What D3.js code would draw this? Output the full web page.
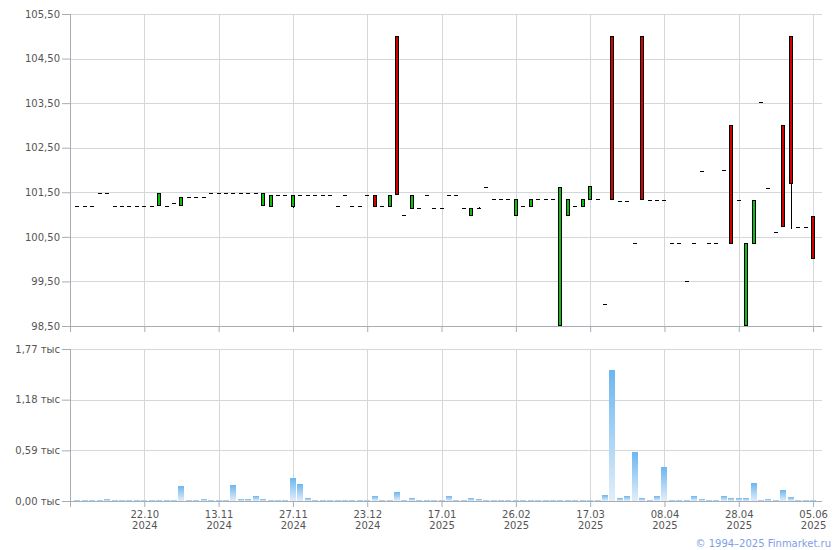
<!DOCTYPE html>
<html>
<head>
<meta charset="utf-8">
<script src="https://cdn.jsdelivr.net/npm/d3@7/dist/d3.min.js"></script>
<style>
  html, body { margin: 0; padding: 0; background: #fff; }
  svg { display: block; font-family: "DejaVu Sans", Verdana, sans-serif; }
</style>
</head>
<body>
<svg id="chart" width="840" height="550"></svg>
<script>
// ---- data (bar index 0..99, daily trading sessions) ----
const open = [
101.2,101.2,101.2,101.48,101.48,101.2,101.2,101.2,101.2,101.2,
101.2,101.2,101.2,101.27,101.2,101.39,101.39,101.39,101.48,101.48,
101.48,101.48,101.48,101.48,101.48,101.2,101.18,101.44,101.44,101.18,
101.44,101.44,101.44,101.44,101.44,101.19,101.45,101.19,101.19,101.44,
101.44,101.19,101.18,105.0,101.0,101.13,101.14,101.45,101.14,101.14,
101.44,101.44,101.14,100.97,101.15,101.61,101.34,101.34,101.34,100.97,
101.19,101.18,101.36,101.34,101.34,98.5,100.97,101.19,101.18,101.33,
101.34,99.0,105.0,101.3,101.3,100.36,105.0,101.32,101.32,101.32,
100.36,100.36,99.5,100.36,101.98,100.36,100.36,102.0,103.0,101.32,
98.5,100.35,103.52,101.59,100.61,103.0,105.0,100.71,100.71,100.97
];
const close = [
101.2,101.2,101.2,101.48,101.48,101.2,101.2,101.2,101.2,101.2,
101.2,101.48,101.2,101.27,101.39,101.39,101.39,101.39,101.48,101.48,
101.48,101.48,101.48,101.48,101.48,101.48,101.43,101.44,101.44,101.43,
101.44,101.44,101.44,101.44,101.44,101.19,101.45,101.19,101.19,101.44,
101.18,101.19,101.44,101.43,101.0,101.44,101.14,101.45,101.14,101.14,
101.44,101.44,101.14,101.14,101.15,101.61,101.34,101.34,101.34,101.34,
101.19,101.34,101.36,101.34,101.34,101.61,101.34,101.19,101.34,101.64,
101.34,99.0,101.32,101.3,101.3,100.36,101.32,101.32,101.32,101.32,
100.36,100.36,99.5,100.36,101.98,100.36,100.36,102.0,100.35,101.32,
100.36,101.32,103.52,101.59,100.61,100.71,101.68,100.71,100.71,100.0
];
const high = [
101.2,101.2,101.2,101.48,101.48,101.2,101.2,101.2,101.2,101.2,
101.2,101.48,101.2,101.27,101.39,101.39,101.39,101.39,101.48,101.48,
101.48,101.48,101.48,101.48,101.48,101.48,101.43,101.44,101.44,101.43,
101.44,101.44,101.44,101.44,101.44,101.19,101.45,101.19,101.19,101.44,
101.44,101.19,101.44,105.0,101.0,101.44,101.14,101.45,101.14,101.14,
101.44,101.44,101.14,101.14,101.17,101.61,101.34,101.34,101.34,101.34,
101.19,101.34,101.36,101.34,101.34,101.61,101.34,101.19,101.34,101.64,
101.34,99.0,105.0,101.3,101.3,100.36,105.0,101.32,101.32,101.32,
100.36,100.36,99.5,100.36,101.98,100.36,100.36,102.0,103.0,101.32,
100.36,101.32,103.52,101.59,100.61,103.0,105.0,100.71,100.71,100.97
];
const low = [
101.2,101.2,101.2,101.48,101.48,101.2,101.2,101.2,101.2,101.2,
101.2,101.2,101.2,101.27,101.2,101.39,101.39,101.39,101.48,101.48,
101.48,101.48,101.48,101.48,101.48,101.2,101.18,101.44,101.44,101.14,
101.44,101.44,101.44,101.44,101.44,101.19,101.45,101.19,101.19,101.44,
101.18,101.19,101.18,101.43,101.0,101.13,101.14,101.45,101.14,101.14,
101.44,101.44,101.14,100.97,101.13,101.61,101.34,101.34,101.34,100.97,
101.19,101.18,101.36,101.34,101.34,98.5,100.97,101.19,101.18,101.33,
101.34,99.0,101.32,101.3,101.3,100.36,101.32,101.32,101.32,101.32,
100.36,100.36,99.5,100.36,101.98,100.36,100.36,102.0,100.35,101.32,
98.5,100.35,103.52,101.59,100.61,100.71,100.68,100.71,100.71,100.0
];
// volume, thousands
const volume = [
0.017,0.017,0.017,0.017,0.027,0.017,0.017,0.017,0.017,0.017,
0.017,0.017,0.017,0.017,0.171,0.017,0.017,0.027,0.017,0.017,
0.017,0.182,0.027,0.027,0.062,0.027,0.017,0.017,0.017,0.272,
0.2,0.037,0.017,0.017,0.017,0.017,0.017,0.017,0.017,0.017,
0.062,0.017,0.017,0.108,0.017,0.03,0.017,0.017,0.017,0.017,
0.062,0.017,0.017,0.04,0.027,0.017,0.017,0.017,0.017,0.017,
0.017,0.017,0.017,0.017,0.017,0.017,0.017,0.017,0.017,0.017,
0.017,0.074,1.53,0.04,0.062,0.574,0.04,0.017,0.062,0.4,
0.017,0.017,0.017,0.062,0.027,0.017,0.017,0.062,0.04,0.04,
0.04,0.213,0.017,0.027,0.017,0.132,0.05,0.017,0.017,0.017
];
const tickIndex = [9,19,29,39,49,59,69,79,89,99];
const tickDay = ["22.10","13.11","27.11","23.12","17.01","26.02","17.03","08.04","28.04","05.06"];
const tickYear = ["2024","2024","2024","2024","2025","2025","2025","2025","2025","2025"];
const priceTicks = [98.5,99.5,100.5,101.5,102.5,103.5,104.5,105.5];
const volTicks = [0, 0.59, 1.18, 1.77];

// ---- layout ----
const svg = d3.select("#chart");
const L = 70, R = 822;
const pTop = 14, pBot = 326, vTop = 349, vBot = 501;
const gridC = "#d3d8dc", axisC = "#a8adb3", textC = "#555";

const N = open.length;
const x = d3.scaleLinear().domain([-1, N + 0.2]).range([L, R]);
const y = d3.scaleLinear().domain([98.5, 105.5]).range([pBot, pTop]);
const yv = d3.scaleLinear().domain([0, 1.77]).range([vBot, vTop]);
const px = v => Math.round(v) + 0.5;
const fmt2 = v => d3.format(".2f")(v).replace(".", ",");

// gradient for volume
const defs = svg.append("defs");
const grad = defs.append("linearGradient").attr("id", "vg").attr("x1", 0).attr("y1", 0).attr("x2", 0).attr("y2", 1);
grad.append("stop").attr("offset", "0%").attr("stop-color", "#6db6f0");
grad.append("stop").attr("offset", "100%").attr("stop-color", "#e2eefa");

function panel(yScale, ticks, top, bot, labelFmt) {
  const g = svg.append("g").attr("shape-rendering", "crispEdges");
  // horizontal grid
  g.selectAll(".hg").data(ticks).join("line")
    .attr("x1", L).attr("x2", R)
    .attr("y1", d => px(yScale(d))).attr("y2", d => px(yScale(d)))
    .attr("stroke", gridC);
  // vertical grid
  g.selectAll(".vg").data(tickIndex).join("line")
    .attr("x1", d => px(x(d))).attr("x2", d => px(x(d)))
    .attr("y1", top).attr("y2", bot)
    .attr("stroke", gridC);
  // left axis
  const ax = svg.append("g").attr("transform", `translate(${L},0)`)
    .call(d3.axisLeft(yScale).tickValues(ticks).tickSizeInner(8).tickSizeOuter(0).tickPadding(2).tickFormat(labelFmt));
  ax.select(".domain").remove();
  ax.selectAll("line").attr("stroke", axisC);
  ax.selectAll("text").attr("fill", textC).attr("font-size", 10).attr("font-family", "DejaVu Sans, Verdana, sans-serif");
  // bottom axis ticks
  const bx = svg.append("g").attr("transform", `translate(0,${Math.round(bot)})`)
    .call(d3.axisBottom(x).tickValues(tickIndex).tickSizeInner(6).tickSizeOuter(0).tickFormat(""));
  bx.select(".domain").remove();
  bx.selectAll("line").attr("stroke", axisC);
  // axis lines
  g.append("line").attr("x1", px(L)).attr("x2", px(L)).attr("y1", top).attr("y2", bot + 6).attr("stroke", axisC);
  g.append("line").attr("x1", L).attr("x2", R).attr("y1", px(bot)).attr("y2", px(bot)).attr("stroke", axisC);
  return bx;
}

panel(y, priceTicks, pTop, pBot, fmt2);
const bx = panel(yv, volTicks, vTop, vBot, v => fmt2(v) + " тыс");

// date labels
bx.selectAll(".tick text").remove();
bx.selectAll(".tick").each(function(d, i) {
  const t = d3.select(this).append("text")
    .attr("fill", textC).attr("font-size", 10).attr("text-anchor", "middle")
    .attr("font-family", "DejaVu Sans, Verdana, sans-serif");
  t.append("tspan").attr("x", 0).attr("y", 17).text(tickDay[i]);
  t.append("tspan").attr("x", 0).attr("y", 28).text(tickYear[i]);
});

// ---- candles ----
const idx = d3.range(N);
const cg = svg.append("g").attr("shape-rendering", "crispEdges");
// wicks
cg.selectAll(".wick").data(idx.filter(i => high[i] > Math.max(open[i], close[i]) || low[i] < Math.min(open[i], close[i])))
  .join("line")
  .attr("x1", i => px(x(i))).attr("x2", i => px(x(i)))
  .attr("y1", i => Math.round(y(high[i]))).attr("y2", i => Math.round(y(low[i])))
  .attr("stroke", "#000");
// doji dashes
cg.selectAll(".dash").data(idx.filter(i => open[i] === close[i]))
  .join("line")
  .attr("x1", i => Math.round(x(i)) - 2).attr("x2", i => Math.round(x(i)) + 2)
  .attr("y1", i => px(y(close[i]))).attr("y2", i => px(y(close[i])))
  .attr("stroke", "#000");
// bodies
cg.selectAll(".body").data(idx.filter(i => open[i] !== close[i]))
  .join("rect")
  .attr("x", i => Math.round(x(i)) - 1.5)
  .attr("width", 3)
  .attr("y", i => Math.round(y(Math.max(open[i], close[i]))) + 0.5)
  .attr("height", i => Math.max(1, Math.round(y(Math.min(open[i], close[i]))) - Math.round(y(Math.max(open[i], close[i]))) - 1))
  .attr("fill", i => close[i] > open[i] ? "#0fbf0f" : "#d40000")
  .attr("stroke", "#000").attr("stroke-width", 1);

// ---- volume ----
svg.append("g").attr("shape-rendering", "crispEdges")
  .selectAll("rect").data(idx).join("rect")
  .attr("x", i => Math.round(x(i)) - 3)
  .attr("width", 6)
  .attr("y", i => Math.round(yv(volume[i])))
  .attr("height", i => Math.max(1, Math.round(vBot) - Math.round(yv(volume[i]))))
  .attr("fill", "url(#vg)");

// copyright
svg.append("text").attr("x", 831).attr("y", 547).attr("text-anchor", "end")
  .attr("font-size", 10).attr("fill", "#7f9ee6")
  .text("© 1994–2025 Finmarket.ru");
</script>
</body>
</html>
